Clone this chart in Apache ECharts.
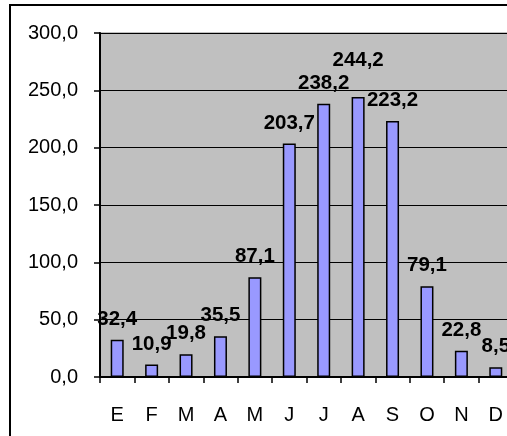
<!DOCTYPE html>
<html>
<head>
<meta charset="utf-8">
<script src="https://cdn.jsdelivr.net/npm/echarts@6/dist/echarts.min.js"></script>
<style>
html,body{margin:0;padding:0;background:#fff;}
#main{width:507px;height:436px;}
</style>
</head>
<body>
<div id="main"></div>
<script>
var months = ['E','F','M','A','M','J','J','A','S','O','N','D'];
var values = [32.4, 10.9, 19.8, 35.5, 87.1, 203.7, 238.2, 244.2, 223.2, 79.1, 22.8, 8.5];
var yTicks = {min: 0, max: 300, interval: 50};

function fmt(v){ return Number(v).toFixed(1).replace('.', ','); }

var chart = echarts.init(document.getElementById('main'), null, {renderer: 'canvas'});
var font = 'Arial';

var seriesData = values.map(function(v, i){
  var item = {value: v};
  if (i === 7) item.label = {distance: 26};
  return item;
});

chart.setOption({
  animation: false,
  backgroundColor: '#fff',
  graphic: [{
    type: 'rect',
    shape: {x: 10, y: 5, width: 620, height: 520},
    style: {fill: 'none', stroke: '#000', lineWidth: 2},
    silent: true,
    z: 100
  }],
  grid: {
    left: 100, top: 33, width: 413, height: 344,
    containLabel: false, outerBoundsMode: 'none',
    show: true, backgroundColor: '#C0C0C0', borderColor: '#808080', borderWidth: 1
  },
  xAxis: {
    type: 'category',
    data: months,
    boundaryGap: true,
    axisLine: {show: true, lineStyle: {color: '#000', width: 2}},
    axisTick: {show: true, inside: false, length: 6, alignWithLabel: false, lineStyle: {color: '#000', width: 1.5}},
    axisLabel: {color: '#000', fontSize: 20, fontFamily: font, margin: 28, interval: 0, hideOverlap: false},
    splitLine: {show: false}
  },
  yAxis: {
    type: 'value',
    min: yTicks.min, max: yTicks.max, interval: yTicks.interval,
    axisLine: {show: true, lineStyle: {color: '#000', width: 2}},
    axisTick: {show: true, inside: false, length: 6, lineStyle: {color: '#000', width: 1.5}},
    axisLabel: {color: '#000', fontSize: 20, fontFamily: font, margin: 22, formatter: fmt, hideOverlap: false},
    splitLine: {show: true, lineStyle: {color: '#000', width: 1.2}}
  },
  series: [{
    type: 'bar',
    data: seriesData,
    barWidth: 13,
    itemStyle: {color: '#9999FF', borderColor: '#000', borderWidth: 1.5},
    label: {
      show: true, position: 'top', distance: 10,
      color: '#000', fontSize: 20.5, fontWeight: 'bold', fontFamily: font,
      formatter: function(p){ return fmt(p.value); }
    },
    z: 3
  }]
});
</script>
</body>
</html>
